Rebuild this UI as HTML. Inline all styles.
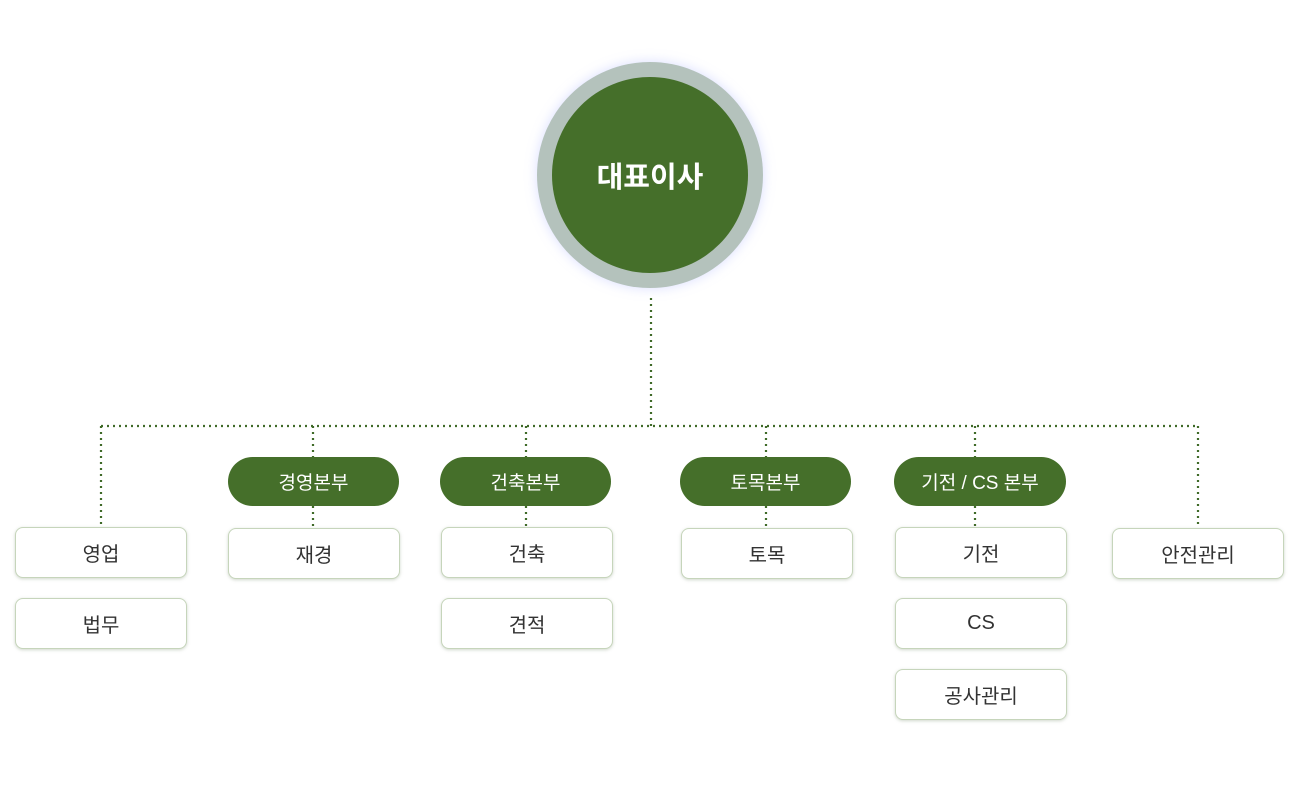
<!DOCTYPE html>
<html><head><meta charset="utf-8"><style>
body{margin:0;width:1300px;height:800px;background:#fff;position:relative;font-family:"Liberation Sans","Noto Sans CJK KR",sans-serif;overflow:hidden}
.ring{position:absolute;left:537px;top:62px;width:226px;height:226px;border-radius:50%;background:#b4c2bc;box-shadow:0 0 12px rgba(150,160,255,.35)}
.core{position:absolute;left:552px;top:77px;width:196px;height:196px;border-radius:50%;background:#456f2a;color:#fff;font-size:29px;font-weight:bold;display:flex;align-items:center;justify-content:center}
.pill{position:absolute;top:457px;width:171px;height:49px;border-radius:25px;background:#456f2a;color:#fff;font-size:19px;display:flex;align-items:center;justify-content:center}
.box{position:absolute;width:170px;height:49px;border:1px solid #c6d5bb;border-radius:8px;background:#fff;box-shadow:0 1px 3px rgba(120,140,110,.35);color:#333;font-size:20px;display:flex;align-items:center;justify-content:center}
svg{position:absolute;left:0;top:0}
</style></head><body>
<svg width="1300" height="800"><g stroke="#3f6a28" stroke-width="2.2" stroke-dasharray="2 4" fill="none">
<path d="M651 298V426M101 426H1198M101 426V526M313 426V457M526 426V457M766 426V457M975 426V457M1198 426V527M313 506V527M526 506V527M766 506V527M975 506V527"/></g></svg>
<div class="ring"></div><div class="core">대표이사</div>
<div class="pill" style="left:228px">경영본부</div>
<div class="pill" style="left:440px">건축본부</div>
<div class="pill" style="left:680px">토목본부</div>
<div class="pill" style="left:894px;width:172px">기전 / CS 본부</div>
<div class="box" style="left:15px;top:527px">영업</div>
<div class="box" style="left:15px;top:598px">법무</div>
<div class="box" style="left:228px;top:528px">재경</div>
<div class="box" style="left:441px;top:527px">건축</div>
<div class="box" style="left:441px;top:598px">견적</div>
<div class="box" style="left:681px;top:528px">토목</div>
<div class="box" style="left:895px;top:527px">기전</div>
<div class="box" style="left:895px;top:598px">CS</div>
<div class="box" style="left:895px;top:669px">공사관리</div>
<div class="box" style="left:1112px;top:528px">안전관리</div>
</body></html>
